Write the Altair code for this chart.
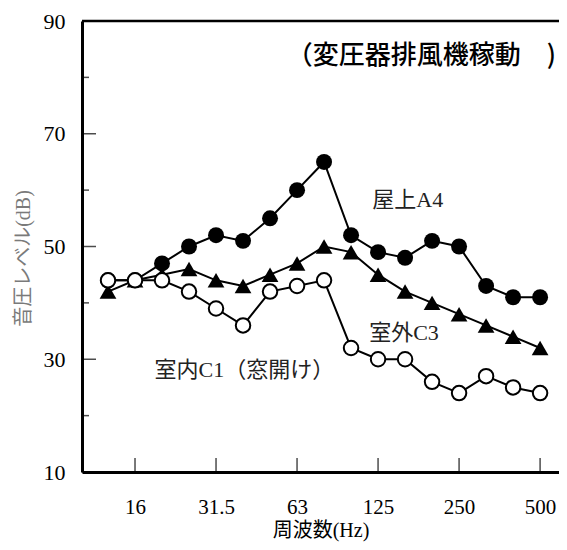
import altair as alt
import pandas as pd

# 1/3 octave band centre frequencies (Hz)
bands = ["12.5", "16", "20", "25", "31.5", "40", "50", "63", "80", "100",
         "125", "160", "200", "250", "315", "400", "500"]
roof_a4 = [44, 44, 47, 50, 52, 51, 55, 60, 65, 52, 49, 48, 51, 50, 43, 41, 41]
outdoor_c3 = [42, 44, 45, 46, 44, 43, 45, 47, 50, 49, 45, 42, 40, 38, 36, 34, 32]
indoor_c1 = [44, 44, 44, 42, 39, 36, 42, 43, 44, 32, 30, 30, 26, 24, 27, 25, 24]
tick_bands = ["16", "31.5", "63", "125", "250", "500"]
y_major = [10, 30, 50, 70, 90]
y_minor = [20, 40, 60, 80]

series_names = ["屋上A4", "室外C3", "室内C1"]
rows = []
for name, vals in zip(series_names, [roof_a4, outdoor_c3, indoor_c1]):
    for i, v in enumerate(vals):
        rows.append({"series": name, "idx": i, "band": bands[i], "level": v})
df = pd.DataFrame(rows)

XMIN, XMAX = -0.963, 16.70
xscale = alt.Scale(domain=[XMIN, XMAX], nice=False, zero=False)
yscale = alt.Scale(domain=[10, 90], nice=False, zero=False)

label_expr = "[" + ",".join("'%s'" % b for b in bands) + "][round(datum.value)]"
tick_idx = [bands.index(b) for b in tick_bands]

NUMFONT = "Liberation Serif"
JPFONT = "Liberation Serif, Noto Sans CJK JP"

x_enc = alt.X("idx:Q", scale=xscale,
              axis=alt.Axis(values=tick_idx, labelExpr=label_expr, ticks=False,
                            grid=False, domainColor="black", domainWidth=3,
                            labelFont=NUMFONT, labelFontSize=21, labelColor="black",
                            labelPadding=24, title="周波数(Hz)",
                            titleFont=JPFONT, titleFontSize=20, titleFontWeight="normal",
                            titleColor="black", titlePadding=3))
y_enc = alt.Y("level:Q", scale=yscale,
              axis=alt.Axis(values=y_major, ticks=False, grid=False,
                            domainColor="black", domainWidth=3,
                            labelFont=NUMFONT, labelFontSize=22, labelColor="black",
                            labelPadding=17, title="音圧レベル(dB)",
                            titleFont=JPFONT, titleFontSize=20, titleFontWeight="normal",
                            titleColor="#7a7a7a", titleX=-59, titleY=237,
                            titleBaseline="middle", titleAngle=270))

base = alt.Chart(df)

lines = base.mark_line(color="black", strokeWidth=2).encode(
    x=x_enc, y=y_enc, detail="series:N")

roof_pts = base.transform_filter(alt.datum.series == "屋上A4").mark_point(
    shape="circle", filled=True, color="black", size=255, opacity=1).encode(
    x="idx:Q", y="level:Q")
out_pts = base.transform_filter(alt.datum.series == "室外C3").mark_point(
    shape="triangle-up", filled=True, color="black", size=280, opacity=1).encode(
    x="idx:Q", y="level:Q")
in_pts = base.transform_filter(alt.datum.series == "室内C1").mark_point(
    shape="circle", filled=True, fill="white", stroke="black", strokeWidth=2,
    size=210, opacity=1).encode(x="idx:Q", y="level:Q")

xt = pd.DataFrame({"idx": tick_idx, "level": [10] * len(tick_idx)})
x_ticks = alt.Chart(xt).mark_tick(orient="vertical", color="black", size=14,
                                  thickness=1.5, yOffset=-7).encode(
    x="idx:Q", y="level:Q")

yt_major = pd.DataFrame({"idx": [XMIN] * len(y_major), "level": y_major})
yt_minor = pd.DataFrame({"idx": [XMIN] * len(y_minor), "level": y_minor})
y_ticks_major = alt.Chart(yt_major).mark_tick(
    orient="horizontal", color="black", size=14, thickness=1.5, xOffset=7).encode(
    x="idx:Q", y="level:Q")
y_ticks_minor = alt.Chart(yt_minor).mark_tick(
    orient="horizontal", color="black", size=7, thickness=1.5, xOffset=3.5).encode(
    x="idx:Q", y="level:Q")

top_rule = alt.Chart(pd.DataFrame({"level": [90]})).mark_rule(
    color="black", strokeWidth=2.5).encode(y="level:Q")

def label(text, xi, yv, size=22, font=JPFONT, color="#222222", weight="normal",
          align="center"):
    return alt.Chart(pd.DataFrame({"t": [text], "idx": [xi], "level": [yv]})).mark_text(
        font=font, fontSize=size, color=color, fontWeight=weight,
        align=align, baseline="middle").encode(x="idx:Q", y="level:Q", text="t:N")

t_title = label("（変圧器排風機稼動　)", 6.62, 83.8, size=26, font="Noto Sans CJK JP",
                color="black", weight=500, align="left")
t_roof = label("屋上A4", 11.1, 58.3)
t_out = label("室外C3", 10.96, 34.7)
t_in = label("室内C1（窓開け）", 5.05, 28.1)

chart = alt.layer(lines, roof_pts, out_pts, in_pts, x_ticks, y_ticks_major,
                  y_ticks_minor, top_rule, t_title, t_roof, t_out, t_in).properties(
    width=477, height=451,
    autosize=alt.AutoSizeParams(type="none"),
    padding={"left": 74, "top": 13, "right": 0, "bottom": 70},
    background="white",
).configure_view(stroke=None)

chart.save("out.html", embed_options={"renderer": "svg", "actions": False})
